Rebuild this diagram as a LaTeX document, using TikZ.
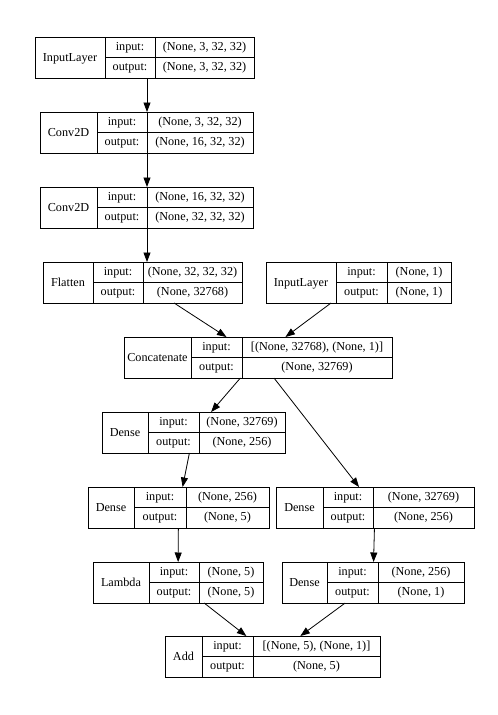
\documentclass[tikz,border=0pt]{standalone}
\usepackage{fontspec}
\setmainfont{Liberation Serif}
\usepackage{tikz}
\usetikzlibrary{arrows.meta}

% one keras layer record: name | input:/output: | shapes
\newcommand\layerbox[9]{%
  \node[layer, minimum width={(#5-#2)*1pt}] (#1) at ({(#2+#5)/2},{#6+20.5}) {};
  \coordinate (#1-split) at (#4,#6);
  \draw[rule] (#3,#6) -- (#3,{#6+41});
  \draw[rule] (#1-split) -- (#4,{#6+41});
  \draw[rule] (#3,{#6+20.5}) -- (#5,{#6+20.5});
  \node[txt] (#1-name) at ({(#2+#3)/2},{#6+21.5}) {#7};
  \node[txt] (#1-inkey) at ({(#3+#4)/2},{#6+10.25}) {input:};
  \node[txt] (#1-outkey) at ({(#3+#4)/2},{#6+30.75}) {output:};
  \node[txt] (#1-inval) at ({(#4+#5)/2},{#6+10.25}) {#8};
  \node[txt] (#1-outval) at ({(#4+#5)/2},{#6+30.75}) {#9};
}

\tikzset{
  layer/.style={draw, line width=0.8pt, minimum height=41pt, inner sep=0pt, outer sep=0pt},
  rule/.style={line width=0.8pt},
  txt/.style={font=\fontsize{12.2}{14}\selectfont, inner sep=0pt, text height=8.5pt, text depth=2.5pt},
  link/.style={line width=0.8pt, -{Triangle[length=9.5pt,width=7pt]}}
}

\begin{document}
\begin{tikzpicture}[x=1pt, y=-1pt]
  \useasboundingbox (0,0) rectangle (498,715);
  \fill[white] (0,0) rectangle (498,715);

  \layerbox{inimg}{35}{105}{155}{254}{37}{InputLayer}{(None, 3, 32, 32)}{(None, 3, 32, 32)}
  \layerbox{convA}{40}{97}{147}{253}{112}{Conv2D}{(None, 3, 32, 32)}{(None, 16, 32, 32)}
  \layerbox{convB}{40}{97}{147}{253}{187}{Conv2D}{(None, 16, 32, 32)}{(None, 32, 32, 32)}
  \layerbox{flat}{43}{93}{143}{242}{262}{Flatten}{(None, 32, 32, 32)}{(None, 32768)}
  \layerbox{inaux}{266}{336}{387}{451}{262}{InputLayer}{(None, 1)}{(None, 1)}
  \layerbox{concat}{124}{191}{242}{392}{337}{Concatenate}{[(None, 32768), (None, 1)]}{(None, 32769)}
  \layerbox{denseA}{102}{148}{199}{285}{412}{Dense}{(None, 32769)}{(None, 256)}
  \layerbox{denseB}{88}{134}{186}{269}{487}{Dense}{(None, 256)}{(None, 5)}
  \layerbox{denseC}{276}{323}{373}{474}{487}{Dense}{(None, 32769)}{(None, 256)}
  \layerbox{lam}{93}{149}{199}{263}{562}{Lambda}{(None, 5)}{(None, 5)}
  \layerbox{denseD}{282}{327}{378}{464}{562}{Dense}{(None, 256)}{(None, 1)}
  \layerbox{addout}{165}{202}{253}{380}{636}{Add}{[(None, 5), (None, 1)]}{(None, 5)}

  % straight drops down the conv stack
  \draw[link] (inimg.south -| convA-split) -- (convA.north -| convA-split);
  \draw[link] (convA.south -| convA-split) -- (convB.north -| convA-split);
  \draw[link] (convB.south -| convA-split) -- (flat.north -| convA-split);
  \draw[link] (flat) -- (concat);
  \draw[link] (inaux) -- (concat);
  \draw[link] (concat) -- (denseA);
  \draw[link] (concat) -- (denseC);
  \draw[link] (denseA) -- (denseB);
  \draw[link] (denseB) -- (lam);
  \draw[link] (denseC) -- (denseD);
  \draw[link] (lam) -- (addout);
  \draw[link] (denseD) -- (addout);
\end{tikzpicture}
\end{document}
